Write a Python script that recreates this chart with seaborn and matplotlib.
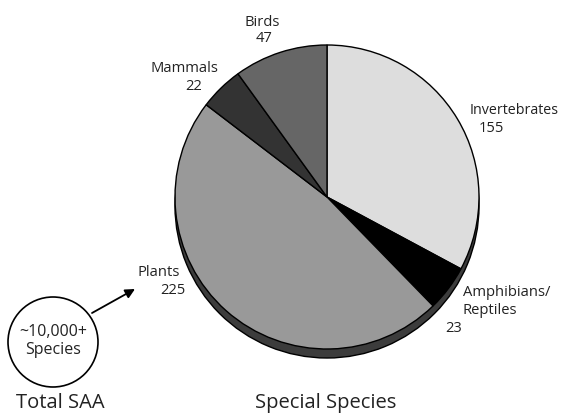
import matplotlib
matplotlib.use("Agg")
import matplotlib.pyplot as plt
import seaborn as sns

# Special species counts, clockwise from the top
groups = ["Invertebrates", "Amphibians/Reptiles", "Plants", "Mammals", "Birds"]
counts = [155, 23, 225, 22, 47]
shades = ["#dddddd", "#000000", "#999999", "#333333", "#666666"]

total_label = ["~10,000+", "Species"]
left_title = "Total SAA"
right_title = "Special Species"

sns.set_theme(style="white")
plt.rcParams["font.family"] = ["Open Sans", "DejaVu Sans"]

W, H = 561, 416
fig = plt.figure(figsize=(W / 100, H / 100), dpi=100)
ax = fig.add_axes([0, 0, 1, 1])


def Y(y):
    return H - y


cx, cy, r = 327, 197, 152
depth = 9

# thickness of the disc
ax.pie([1], colors=["#3c3c3c"], radius=r, center=(cx, Y(cy + depth)),
       wedgeprops=dict(edgecolor="black", linewidth=1.0), frame=True)
# top face
ax.pie(counts, colors=shades, radius=r, center=(cx, Y(cy)),
       startangle=90, counterclock=False,
       wedgeprops=dict(edgecolor="black", linewidth=1.0), frame=True)
ax.set_xlim(0, W)
ax.set_ylim(0, H)
ax.set_aspect("equal")
ax.axis("off")

fs = 10.6
tc = "#222222"
ax.text(262, Y(22), "Birds", ha="center", va="center", fontsize=fs, color=tc)
ax.text(264, Y(39), str(counts[4]), ha="center", va="center", fontsize=fs, color=tc)
ax.text(184, Y(68), "Mammals", ha="center", va="center", fontsize=fs, color=tc)
ax.text(202, Y(87), str(counts[3]), ha="right", va="center", fontsize=fs, color=tc)
ax.text(180, Y(272), "Plants", ha="right", va="center", fontsize=fs, color=tc)
ax.text(186, Y(290), str(counts[2]), ha="right", va="center", fontsize=fs, color=tc)
ax.text(470, Y(110), "Invertebrates", ha="left", va="center", fontsize=10.3, color=tc)
ax.text(479, Y(128), str(counts[0]), ha="left", va="center", fontsize=fs, color=tc)
ax.text(463, Y(292), "Amphibians/", ha="left", va="center", fontsize=fs, color=tc)
ax.text(463, Y(311), "Reptiles", ha="left", va="center", fontsize=fs, color=tc)
ax.text(445, Y(328), str(counts[1]), ha="left", va="center", fontsize=fs, color=tc)

# total species bubble and arrow
ax.add_patch(plt.Circle((53, Y(342)), 45, facecolor="white",
                        edgecolor="black", linewidth=1.2))
ax.text(53, Y(332), total_label[0], ha="center", va="center", fontsize=11.5, color=tc)
ax.text(53, Y(350), total_label[1], ha="center", va="center", fontsize=11.5, color=tc)
ax.annotate("", xy=(135, Y(289)), xytext=(92, Y(313)),
            arrowprops=dict(arrowstyle="-|>", color="black", lw=1.3,
                            mutation_scale=14, shrinkA=0, shrinkB=0))

ax.text(60, Y(403), left_title, ha="center", va="center", fontsize=14.5, color=tc)
ax.text(326, Y(403), right_title, ha="center", va="center", fontsize=14.5, color=tc)

fig.savefig("out.png", dpi=100)
